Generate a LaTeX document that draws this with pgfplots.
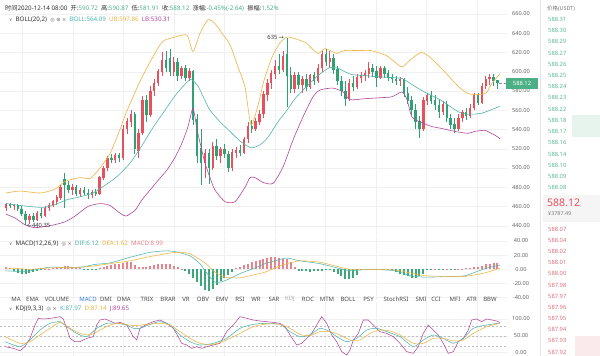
\documentclass[border=0pt]{standalone}
\usepackage{pgfplots}
\pgfplotsset{compat=1.18}
\usepackage{pgfplotstable}
\usepackage{fontspec}
\setmainfont{Noto Sans}
\newfontfamily\cjk{Noto Sans CJK SC}
\newfontfamily\dv{DejaVu Sans}
\definecolor{cred}{HTML}{E5515D}
\definecolor{cgreen}{HTML}{2FA274}
\definecolor{hred}{HTML}{E7838C}
\definecolor{hgreen}{HTML}{3DA77C}
\definecolor{bteal}{HTML}{4DB6AC}
\definecolor{bgold}{HTML}{EDB443}
\definecolor{bmag}{HTML}{B3479E}
\definecolor{txt}{HTML}{333333}
\definecolor{axtxt}{HTML}{666666}
\definecolor{vg}{HTML}{4DB38A}
\definecolor{obgreen}{HTML}{5CB897}
\definecolor{obred}{HTML}{D9707E}
\definecolor{tagg}{HTML}{4CAF85}
\definecolor{tabblue}{HTML}{3C7FD9}
\definecolor{lgbg}{HTML}{E7F4EE}
\definecolor{lrbg}{HTML}{FBEAEC}

\pgfplotstableread{
x o h l c
6 458 464 455 462
13.8 460 463 456 461
29.4 446 452 442 450
37.2 446 455 445 453
45 450 460 449 458
48.9 458 464 455 461
52.8 461 467 459 465
56.7 465 472 462 469
60.6 469 482 467 480
72.3 477 483 472 480
80.1 473 479 470 477
91.8 472 477 469 475
99.6 473 492 472 490
103.5 490 502 488 500
107.4 500 512 497 510
115.2 508 516 505 513
123 510 545 508 540
126.9 540 552 535 548
130.8 548 560 543 556
138.6 518 540 510 536
142.5 536 575 534 570
150.3 555 585 553 580
154.2 580 592 575 588
158.1 588 603 585 600
162 600 620 596 612
173.7 600 615 596 610
181.5 596 606 592 603
189.3 594 604 590 600
204.9 505 520 490 515
212.7 500 527 498 522
220.5 512 522 505 519
232.2 500 520 497 516
236.1 516 522 510 518
243.9 516 532 514 530
247.8 530 548 526 543
255.6 540 552 538 548
259.5 548 560 545 556
263.4 556 580 552 576
267.3 576 592 570 588
271.2 588 602 582 598
275.1 598 612 592 606
282.9 602 622 600 616
294.6 582 600 578 596
302.4 586 596 578 592
310.2 584 598 582 596
318 590 608 588 604
321.9 604 622 600 618
329.7 610 622 604 614
349.2 572 592 570 588
357 584 598 582 594
360.9 594 600 588 596
364.8 596 602 590 598
368.7 598 610 594 604
380.4 594 606 592 603
399.9 590 595 585 592
423.3 540 574 538 570
427.2 570 578 565 575
442.8 558 570 555 566
458.4 540 556 538 552
462.3 552 560 548 558
470.1 554 566 552 562
474 562 578 560 575
481.8 568 588 566 585
485.7 585 596 582 592
489.6 592 598 586 594
}\upc

\pgfplotstableread{
x o h l c
9.9 462 464 458 460
17.7 461 463 455 457
21.6 457 460 450 452
25.5 452 455 440.35 446
33.3 450 453 444 446
41.1 453 458 448 450
64.5 488 495 458 482
68.4 482 486 474 477
76.2 480 482 471 473
84 477 480 472 474
87.9 474 478 468 472
95.7 475 478 471 473
111.3 510 514 505 508
119.1 513 516 506 510
134.7 556 558 514 520
146.4 570 576 548 555
165.9 612 622 600 604
169.8 614 624 596 600
177.6 610 614 590 596
185.4 603 607 590 594
193.2 600 602 545 550
197.1 550 556 505 512
201 520 540 482 505
208.8 515 520 483 500
216.6 522 530 508 512
224.4 519 525 510 514
228.3 514 518 496 500
240 518 524 512 516
251.7 543 550 536 540
279 606 618 598 602
286.8 618 635 563 596
290.7 596 605 578 582
298.5 596 600 582 586
306.3 592 598 580 584
314.1 596 600 586 590
325.8 618 624 606 610
333.6 614 618 598 602
337.5 602 606 586 590
341.4 590 596 575 580
345.3 580 590 564 572
353.1 588 596 580 584
372.6 604 608 595 600
376.5 600 606 584 594
384.3 603 606 594 598
388.2 598 602 590 594
392.1 594 598 588 592
396 592 596 586 590
403.8 592 594 574 578
407.7 578 584 566 570
411.6 570 575 555 560
415.5 560 566 540 548
419.4 548 554 531 540
431.1 575 580 566 570
435 570 576 560 565
438.9 565 572 552 558
446.7 566 570 548 552
450.6 552 556 540 545
454.5 545 552 536 540
466.2 558 562 550 554
477.9 575 578 565 568
493.5 594 598 585 590
497.4 590.72 590.87 581.91 588.12
}\dnc

\pgfplotsset{
  panel/.style={
    scale only axis, width=508pt, xmin=0, xmax=508,
    axis line style={draw=none}, major tick length=0pt,
    xtick={22.5,73,123.5,174,224.5,275,325.5,376,426.5,477}, xticklabels={},
    xmajorgrids, ymajorgrids,
    major grid style={draw=black!6, line width=0.4pt},
    yticklabel pos=right,
    scaled y ticks=false,
    yticklabel style={font=\fontsize{5.6}{6}\selectfont, text=axtxt, anchor=center, xshift=13pt},
    /pgf/number format/fixed, /pgf/number format/fixed zerofill,
    /pgf/number format/precision=2, /pgf/number format/assume math mode=true,
  },
  ebar/.style 2 args={draw=none, mark=none, error bars/.cd, y dir=plus, y explicit, error mark=none,
    error bar style={draw=#1, line width=#2, solid}},
}

\begin{document}
\begin{tikzpicture}[x=1pt,y=1pt]
\path[use as bounding box, fill=white] (0pt,0pt) rectangle (600pt,356pt);

% ---------------- price panel
\begin{axis}[panel, at={(0pt,121pt)}, anchor=south west, height=235pt,
  ymin=430.34, ymax=674.55, ytick={440,460,...,660}]
\addplot[ebar={cred}{0.55pt}] table[x=x, y=l, y error plus expr=\thisrow{h}-\thisrow{l}] {\upc};
\addplot[ebar={cgreen}{0.55pt}] table[x=x, y=l, y error plus expr=\thisrow{h}-\thisrow{l}] {\dnc};
\addplot[ebar={cred}{2.4pt}] table[x=x, y=o, y error plus expr=\thisrow{c}-\thisrow{o}+0.4] {\upc};
\addplot[ebar={cgreen}{2.4pt}] table[x=x, y=c, y error plus expr=\thisrow{o}-\thisrow{c}+0.4] {\dnc};
% upper band
\addplot[bgold, line width=0.6pt, smooth, tension=0.4] coordinates {
(6,474) (20,476) (40,474) (55,478) (65,486) (80,490) (90,489) (100,500) (110,515) (120,540) (126,557)
(140,590) (150,610) (160,628) (165,633) (175,636) (187,638) (193,621) (200,640) (208,654) (215,650)
(222,640) (230,628) (238,605) (245,584) (251,545) (258,565) (264,591) (272,615) (280,630) (287,636)
(296,634) (306,630) (312,624) (318,619) (325,624) (332,621) (337,619) (344,622) (360,622) (371,622)
(386,617) (395,610) (402,605) (410,612) (421,620) (430,615) (440,605) (450,594) (459,584) (467,578)
(475,576) (486,578) (492,588) (500,597.86)};
% middle band
\addplot[bteal, line width=0.6pt, smooth, tension=0.4] coordinates {
(6,463) (20,461) (43,459) (55,462) (67,467) (80,470) (93,474) (105,482) (117,491) (130,505) (140,520)
(153,542) (165,560) (175,575) (185,587) (191,592) (198,585) (205,570) (210,560) (220,548) (230,538)
(240,528) (251,521) (260,524) (268,532) (278,548) (287,560) (295,572) (306,584) (318,596) (329,604)
(337,604) (345,600) (352,597) (365,596) (375,595) (390,594) (402,593) (410,588) (421,581) (430,576)
(440,571) (450,564) (459,558) (467,556) (475,556) (482,557) (490,560) (500,564.09)};
% lower band
\addplot[bmag, line width=0.6pt, smooth, tension=0.4] coordinates {
(6,452) (15,448) (25,441) (35,438) (50,440) (65,444) (75,450) (88,460) (100,463) (110,461) (120,453)
(126,450) (135,456) (142,467) (150,477) (158,487) (167,498) (175,511) (182,526) (188,543) (193,562)
(197,540) (201,522) (205,505) (210,490) (215,477) (225,465) (235,465) (245,480) (250,490) (255,490)
(263,485) (273,484) (283,501) (293,529) (303,553) (313,574) (320,581) (333,583) (343,579) (350,571)
(365,572) (380,573) (392,574) (402,579) (407,571) (412,553) (422,547) (432,543) (442,541) (455,538)
(468,536) (475,538) (485,539) (495,534) (500,530.31)};
\draw[black!45, densely dashed, line width=0.4pt] (axis cs:499,588.12) -- (axis cs:508,588.12);
\node[anchor=east, inner sep=1pt, font=\fontsize{5.8}{6}\selectfont, text=txt] at (axis cs:285,636) {635 {\dv →}};
\node[anchor=west, inner sep=1pt, font=\fontsize{5.8}{6}\selectfont, text=txt] at (axis cs:26,440.35) {{\dv ←}440.35};
\end{axis}

% ---------------- MACD panel
\begin{axis}[panel, at={(0pt,56pt)}, anchor=south west, height=64pt,
  ymin=-43.25, ymax=47.05, ytick={-40,-20,0,20,40}]
\addplot[ebar={hred}{2pt}] coordinates {
(6,0) += (0,3) (9.9,0) += (0,2) (45,0) += (0,0.5) (48.9,0) += (0,1) (52.8,0) += (0,2) (56.7,0) += (0,3)
(60.6,0) += (0,4) (64.5,0) += (0,5) (68.4,0) += (0,5) (72.3,0) += (0,4) (76.2,0) += (0,3) (80.1,0) += (0,2)
(99.6,0) += (0,2) (103.5,0) += (0,4) (107.4,0) += (0,5) (111.3,0) += (0,6) (115.2,0) += (0,7) (119.1,0) += (0,8)
(123,0) += (0,9) (126.9,0) += (0,10) (130.8,0) += (0,10) (134.7,0) += (0,6) (138.6,0) += (0,3) (142.5,0) += (0,3)
(146.4,0) += (0,4) (150.3,0) += (0,5) (154.2,0) += (0,6) (158.1,0) += (0,7) (162,0) += (0,8) (165.9,0) += (0,8)
(169.8,0) += (0,7) (173.7,0) += (0,5) (177.6,0) += (0,3) (181.5,0) += (0,1) (236.1,0) += (0,2) (240,0) += (0,4)
(243.9,0) += (0,6) (247.8,0) += (0,8) (251.7,0) += (0,10) (255.6,0) += (0,12) (259.5,0) += (0,13) (263.4,0) += (0,15)
(267.3,0) += (0,16) (271.2,0) += (0,17) (275.1,0) += (0,17) (279,0) += (0,16) (282.9,0) += (0,15) (286.8,0) += (0,14)
(290.7,0) += (0,10) (294.6,0) += (0,4) (364.8,0) += (0,0.6) (368.7,0) += (0,1) (372.6,0) += (0,1) (376.5,0) += (0,0.6)
(388.2,0) += (0,0.6) (435,0) += (0,0.6) (446.7,0) += (0,0.6) (458.4,0) += (0,0.6) (462.3,0) += (0,1) (466.2,0) += (0,1.5)
(470.1,0) += (0,2) (474,0) += (0,3) (477.9,0) += (0,4) (481.8,0) += (0,5) (485.7,0) += (0,7) (489.6,0) += (0,8)
(493.5,0) += (0,9) (497.4,0) += (0,8.99)};
\addplot[ebar={hgreen}{2pt}] coordinates {
(13.8,-3) += (0,3) (17.7,-5) += (0,5) (21.6,-6) += (0,6) (25.5,-6) += (0,6) (29.4,-5) += (0,5) (33.3,-4) += (0,4)
(37.2,-2) += (0,2) (41.1,-1) += (0,1) (84,-0.6) += (0,0.6) (87.9,-1) += (0,1) (91.8,-1) += (0,1) (95.7,-0.6) += (0,0.6)
(185.4,-3) += (0,3) (189.3,-6) += (0,6) (193.2,-12) += (0,12) (197.1,-18) += (0,18) (201,-24) += (0,24)
(204.9,-29) += (0,29) (208.8,-31) += (0,31) (212.7,-28) += (0,28) (216.6,-22) += (0,22) (220.5,-17) += (0,17)
(224.4,-12) += (0,12) (228.3,-8) += (0,8) (232.2,-4) += (0,4) (298.5,-2) += (0,2) (302.4,-3) += (0,3)
(306.3,-3) += (0,3) (310.2,-4) += (0,4) (314.1,-3) += (0,3) (318,-3) += (0,3) (321.9,-2) += (0,2)
(325.8,-0.6) += (0,0.6) (329.7,-0.6) += (0,0.6) (333.6,-4) += (0,4) (337.5,-7) += (0,7) (341.4,-10) += (0,10)
(345.3,-13) += (0,13) (349.2,-14) += (0,14) (353.1,-12) += (0,12) (357,-8) += (0,8) (360.9,-1) += (0,1)
(380.4,-0.6) += (0,0.6) (384.3,-1) += (0,1) (392.1,-1) += (0,1) (396,-4) += (0,4) (399.9,-6) += (0,6)
(403.8,-8) += (0,8) (407.7,-10) += (0,10) (411.6,-12) += (0,12) (415.5,-12) += (0,12) (419.4,-10) += (0,10)
(423.3,-6) += (0,6) (427.2,-1) += (0,1) (431.1,-0.6) += (0,0.6) (438.9,-1) += (0,1) (442.8,-0.6) += (0,0.6)
(450.6,-0.6) += (0,0.6) (454.5,-1) += (0,1)};
\addplot[bteal, line width=0.55pt, smooth, tension=0.4] coordinates {
(5,-2) (20,-3) (30,-2) (50,3) (80,3) (95,7) (110,9) (130,17) (150,24) (165,26) (175,25) (190,19)
(200,8) (205,-2) (215,-18) (225,-16) (240,-6) (255,2) (265,8) (280,14) (287,16) (300,12) (320,8)
(340,1) (350,-2) (370,0) (395,-2) (410,-9) (425,-11) (450,-10) (465,-9) (485,1) (500,6.12)};
\addplot[bgold, line width=0.55pt, smooth, tension=0.4] coordinates {
(5,2) (20,1) (30,0) (50,2) (80,3) (95,5) (110,8) (130,12) (150,18) (170,23) (180,24) (190,22)
(205,9) (215,-4) (225,-11) (240,-12) (250,-9) (265,-4) (280,5) (287,8) (300,12) (320,10) (340,3)
(350,0) (370,0) (395,-1) (410,-5) (425,-9) (450,-10) (465,-10) (485,-5) (500,1.62)};
\end{axis}

% ---------------- KDJ panel
\begin{axis}[panel, at={(0pt,0pt)}, anchor=south west, height=54pt,
  ymin=-9.8, ymax=150.4, ytick={0,50,100},
  extra y ticks={20,50,80}, extra y tick labels={},
  extra y tick style={grid=major, major grid style={draw=black!25, dash pattern=on 2pt off 2pt, line width=0.4pt}}]
\addplot[bmag, line width=0.55pt] coordinates {
(5,17.9) (13.3,12.9) (20,6) (25,17.9) (30,42.6) (35,82.2) (38.3,101.9) (43.3,100) (50,101.9) (55,103.9)
(60,106.9) (63.3,100) (66.7,72.3) (70,42.6) (75,32.7) (80,32.7) (86.7,42.6) (93.3,47.5) (96.7,82.2)
(100,97) (105,100) (110,94) (115,87.1) (120,90) (126.7,82.2) (133.3,47.5) (136.7,37.7) (140,72.3)
(146.7,84.1) (153.3,92) (160,97) (166.7,87.1) (173.3,72.3) (178.3,47.5) (181.7,27.8) (186.7,22.8)
(191.7,12.9) (196.7,17.9) (201.7,12.9) (206.7,17.9) (213.3,22.8) (220,27.8) (226.7,62.4) (233.3,82.2)
(240,106.9) (246.7,102) (253.3,97) (260,94) (266.7,92) (273.3,90) (280,87.1) (285,77.2) (290,52.5)
(296.7,22.8) (301.7,27.8) (306.7,42.6) (311.7,57.4) (316.7,82.2) (321.7,106.9) (326.7,87.1)
(331.7,52.5) (336.7,32.7) (341.7,3) (346.7,-6.9) (350,8) (353.3,37.7) (358.3,57.4) (363.3,97)
(368.3,97) (373.3,82.2) (380,62.4) (386.7,57.4) (393.3,47.5) (400,27.8) (406.7,3) (413.3,-1.9)
(418.3,17.9) (423.3,57.4) (428.3,82.2) (433.3,67.3) (438.3,52.5) (443.3,27.8) (448.3,-1.9) (453.3,3)
(458.3,32.7) (463.3,42.6) (468.3,67.3) (471.7,97) (476.7,100) (481.7,92) (486.7,100) (491.7,97)
(496.7,94) (500,89.65)};
\addplot[bteal, line width=0.55pt, smooth, tension=0.4] coordinates {
(5,32.7) (20,17.9) (30,37.7) (40,67.3) (50,87.1) (60,92) (66.7,77.2) (76.7,57.4) (86.7,47.5)
(96.7,72.3) (106.7,87.1) (116.7,87.1) (126.7,82.2) (133.3,72.3) (140,72.3) (150,84.1) (160,92)
(170,82.2) (180,52.5) (190,32.7) (200,22.8) (213.3,27.8) (226.7,42.6) (240,72.3) (253.3,84.1)
(266.7,87.1) (280,84.1) (290,62.4) (300,47.5) (310,52.5) (320,72.3) (330,62.4) (336.7,47.5)
(346.7,32.7) (356.7,42.6) (366.7,67.3) (376.7,72.3) (386.7,62.4) (400,47.5) (413.3,17.9)
(423.3,37.7) (433.3,52.5) (443.3,42.6) (453.3,27.8) (463.3,42.6) (473.3,72.3) (486.7,82.2) (500,87.97)};
\addplot[bgold, line width=0.55pt, smooth, tension=0.4] coordinates {
(5,47.5) (20,27.8) (30,32.7) (40,52.5) (50,72.3) (60,90) (70,72.3) (80,57.4) (90,52.5) (100,67.3)
(110,82.2) (120,87.1) (133.3,80.2) (146.7,84.1) (160,87.1) (170,82.2) (180,62.4) (190,42.6)
(200,27.8) (213.3,24.8) (226.7,37.7) (240,57.4) (253.3,77.2) (266.7,85.1) (280,84.1) (290,72.3)
(300,54.5) (310,50.5) (320,62.4) (330,62.4) (340,52.5) (350,37.7) (360,37.7) (370,57.4) (380,67.3)
(390,64.4) (400,52.5) (413.3,27.8) (423.3,27.8) (433.3,42.6) (443.3,42.6) (453.3,34.7) (463.3,37.7)
(473.3,57.4) (486.7,77.2) (500,87.14)};
\end{axis}

% ---------------- header texts
\node[anchor=west, inner sep=0, font=\fontsize{6.2}{7}\selectfont, text=txt] at (5,348)
 {{\cjk 时间}2020-12-14 08:00 \ {\cjk 开}:\textcolor{vg}{590.72} \ {\cjk 高}:\textcolor{vg}{590.87} \ {\cjk 低}:\textcolor{vg}{581.91} \ {\cjk 收}:\textcolor{vg}{588.12} \ {\cjk 涨幅}:\textcolor{vg}{-0.45\%(-2.64)} \ {\cjk 振幅}:\textcolor{vg}{1.52\%}};
\node[anchor=west, inner sep=0, font=\fontsize{6.2}{7}\selectfont, text=txt] at (9,336)
 {{\dv\fontsize{4.5}{5}\selectfont\color{axtxt}∨}\ \ BOLL(20,2)\ \ {\dv\fontsize{5}{5}\selectfont\color{axtxt}◎ ⊛ ×}\ \ \textcolor{bteal}{BOLL:564.09}\ \ \textcolor{bgold}{UB:597.86}\ \ \textcolor{bmag}{LB:530.31}};
\node[anchor=west, inner sep=0, font=\fontsize{6.2}{7}\selectfont, text=txt] at (9,112)
 {{\dv\fontsize{4.5}{5}\selectfont\color{axtxt}∨}\ \ MACD(12,26,9)\ \ {\dv\fontsize{5}{5}\selectfont\color{axtxt}◎ ×}\ \ \textcolor{bteal}{DIF:6.12}\ \ \textcolor{bgold}{DEA:1.62}\ \ \textcolor{hred}{MACD:8.99}};
\node[anchor=west, inner sep=0, font=\fontsize{6.2}{7}\selectfont, text=txt] at (9,47)
 {{\dv\fontsize{4.5}{5}\selectfont\color{axtxt}∨}\ \ KDJ(9,3,3)\ \ {\dv\fontsize{5}{5}\selectfont\color{axtxt}◎ ×}\ \ \textcolor{bteal}{K:87.97}\ \ \textcolor{bgold}{D:87.14}\ \ \textcolor{bmag}{J:89.65}};

% ---------------- tab row
\foreach \t/\xx in {MA/16, EMA/32.5, VOLUME/57, DMI/106, DMA/124, TRIX/147, BRAR/168, VR/186, OBV/203, EMV/222, RSI/240, WR/256, SAR/274, ROC/308, MTM/327, BOLL/348, PSY/368.5, StochRSI/396, SMI/421, CCI/436, MFI/455, ATR/471.5, BBW/490}
  \node[inner sep=0, font=\fontsize{6}{6}\selectfont, text=black!70] at (\xx,57) {\t};
\node[inner sep=0, font=\fontsize{6}{6}\selectfont, text=tabblue] at (88,57) {MACD};
\node[inner sep=0, font=\fontsize{6}{6}\selectfont, text=black!30] at (290,57) {KDJ};

% ---------------- price tag
\node[fill=tagg, text=white, inner sep=0, minimum width=32pt, minimum height=11pt, font=\fontsize{5.8}{6}\selectfont] at (522,272.8) {588.12};

% ---------------- order book
\draw[black!10, line width=0.5pt] (540,0) -- (540,356);
\fill[lgbg] (572,219) rectangle (600,241);
\fill[black!4] (543,134) rectangle (600,161);
\fill[lrbg] (575,0) rectangle (600,20);
\node[anchor=west, inner sep=0, font=\fontsize{5.4}{6}\selectfont, text=black!55] at (547,347) {{\cjk 价格}(USDT)};
\foreach \v/\yy in {588.31/336.7, 588.30/325.5, 588.29/314.2, 588.27/303.0, 588.26/291.8, 588.25/280.5, 588.24/269.3, 588.23/258.1, 588.22/246.9, 588.18/235.6, 588.17/224.4, 588.16/213.2, 588.14/201.9, 588.10/190.7, 588.09/179.5, 588.08/168.2}
  \node[anchor=west, inner sep=0, font=\fontsize{5.8}{6}\selectfont, text=obgreen] at (548,\yy) {\v};
\foreach \v/\yy in {588.07/126.7, 588.04/115.5, 588.02/104.4, 588.01/93.2, 588.00/82.1, 587.98/70.9, 587.97/59.7, 587.96/48.6, 587.95/37.4, 587.94/26.3, 587.93/15.1, 587.92/3.9}
  \node[anchor=west, inner sep=0, font=\fontsize{5.8}{6}\selectfont, text=obred] at (548,\yy) {\v};
\node[anchor=west, inner sep=0, font=\fontsize{10.5}{11}\selectfont, text=cred] at (547,153) {588.12};
\node[anchor=west, inner sep=0, font=\fontsize{5.4}{6}\selectfont, text=black!50] at (548,142) {¥3787.49};
\end{tikzpicture}
\end{document}
